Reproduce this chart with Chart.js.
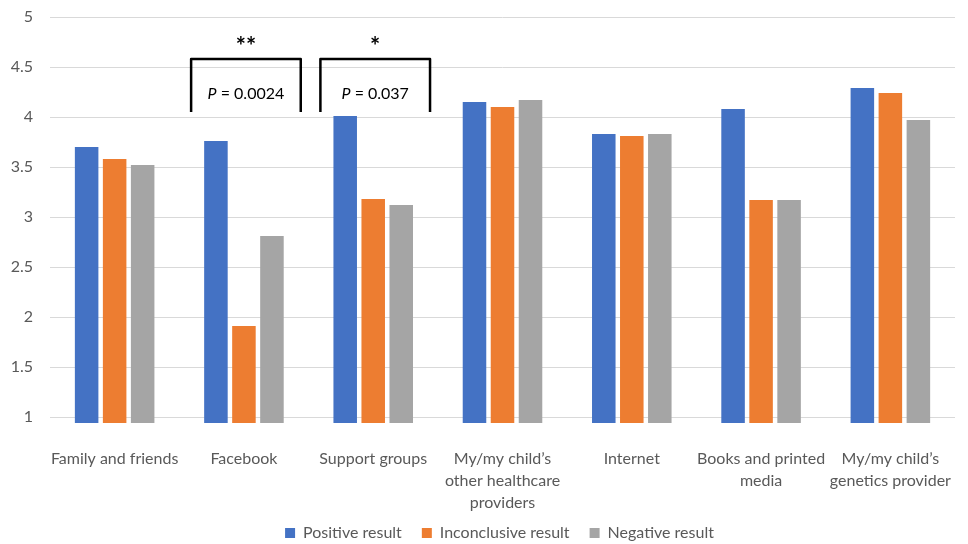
<!DOCTYPE html>
<html>
<head>
<meta charset="utf-8">
<script src="https://cdn.jsdelivr.net/npm/chart.js@4/dist/chart.umd.min.js"></script>
<style>
  html, body { margin: 0; padding: 0; background: #fff; }
  #wrap { width: 968px; height: 544px; }
</style>
</head>
<body>
<div id="wrap"><canvas id="c" width="968" height="544"></canvas></div>
<script>
// Mean ratings of information sources, by genetic test result
const categories = [
  "Family and friends",
  "Facebook",
  "Support groups",
  ["My/my child\u2019s", "other healthcare", "providers"],
  "Internet",
  ["Books and printed", "media"],
  ["My/my child\u2019s", "genetics provider"]
];
const seriesNames = ["Positive result", "Inconclusive result", "Negative result"];
const positive     = [3.70, 3.76, 4.01, 4.15, 3.83, 4.08, 4.29];
const inconclusive = [3.58, 1.91, 3.18, 4.10, 3.81, 3.17, 4.24];
const negative     = [3.52, 2.81, 3.12, 4.17, 3.83, 3.17, 3.97];
const yTicks = [1, 1.5, 2, 2.5, 3, 3.5, 4, 4.5, 5];

// Significance brackets: category index, stars, p-value text
const sigCategory = [1, 2];
const sigStars = ["**", "*"];
const sigP = ["0.0024", "0.037"];

const colors = ["#4472C4", "#ED7D31", "#A5A5A5"];
const FONT = "Lato, 'Open Sans', sans-serif";

const sigPlugin = {
  id: "sig",
  afterDatasetsDraw(chart) {
    const ctx = chart.ctx;
    const x = chart.scales.x, y = chart.scales.y;
    const catW = (chart.chartArea.right - chart.chartArea.left) / categories.length;
    const yTop = y.getPixelForValue(4.58);
    const yBot = y.getPixelForValue(4.05);
    const yText = y.getPixelForValue(4.23);
    const yStar = y.getPixelForValue(4.75);
    ctx.save();
    sigCategory.forEach((ci, i) => {
      const cx = x.getPixelForValue(ci) + 2;
      const half = catW * 0.424;
      ctx.strokeStyle = "#000";
      ctx.lineWidth = 2.5;
      ctx.lineJoin = "round";
      ctx.beginPath();
      ctx.moveTo(cx - half, yBot);
      ctx.lineTo(cx - half, yTop);
      ctx.lineTo(cx + half, yTop);
      ctx.lineTo(cx + half, yBot);
      ctx.stroke();

      ctx.fillStyle = "#000";
      ctx.textBaseline = "middle";
      ctx.textAlign = "left";
      const fI = "italic 16px " + FONT;
      const fN = "16px " + FONT;
      ctx.font = fI;
      const wP = ctx.measureText("P").width;
      const rest = " = " + sigP[i];
      ctx.font = fN;
      const wR = ctx.measureText(rest).width;
      const start = cx - (wP + wR) / 2;
      ctx.font = fI;
      ctx.fillText("P", start, yText);
      ctx.font = fN;
      ctx.fillText(rest, start + wP, yText);

      ctx.font = "bold 24px " + FONT;
      ctx.textAlign = "center";
      ctx.fillText(sigStars[i], cx, yStar + 5);
    });
    ctx.restore();
  }
};

// Keeps the legend band compact under the category labels, nudged a little right
const legendHeightPlugin = {
  id: "legendHeight",
  afterInit(chart) {
    const leg = chart.legend;
    if (!leg) return;
    const origFit = leg.fit;
    leg.fit = function () {
      origFit.call(this);
      this.height = 39;
    };
  },
  afterLayout(chart) {
    const leg = chart.legend;
    if (!leg) return;
    leg.left += 16;
    leg.right += 16;
  }
};

new Chart(document.getElementById("c"), {
  type: "bar",
  data: {
    labels: categories,
    datasets: [
      { label: seriesNames[0], data: positive, backgroundColor: colors[0] },
      { label: seriesNames[1], data: inconclusive, backgroundColor: colors[1] },
      { label: seriesNames[2], data: negative, backgroundColor: colors[2] }
    ]
  },
  options: {
    responsive: false,
    animation: false,
    layout: { padding: { top: 17, right: 1, left: 0, bottom: 0 } },
    datasets: { bar: { categoryPercentage: 0.65, barPercentage: 0.84 } },
    scales: {
      x: {
        grid: { display: false },
        border: { display: false },
        afterFit(scale) {
          scale.height = 82;
          scale._computeLabelArea = () => undefined;
        },
        ticks: {
          color: "#595959",
          font: { family: FONT, size: 16, lineHeight: 1.375 },
          maxRotation: 0,
          autoSkip: false,
          padding: 17
        }
      },
      y: {
        min: 0.94,
        max: 5,
        afterBuildTicks(scale) {
          scale.ticks = yTicks.map(v => ({ value: v }));
        },
        afterFit(scale) {
          scale.width = 50;
          scale.paddingTop = 0;
          scale.paddingBottom = 0;
        },
        grid: { color: "#D9D9D9", lineWidth: 1, drawTicks: false },
        border: { display: false },
        ticks: {
          color: "#595959",
          font: { family: FONT, size: 16 },
          padding: 17,
          callback: v => String(v)
        }
      }
    },
    plugins: {
      legend: {
        position: "bottom",
        labels: {
          boxWidth: 10,
          boxHeight: 10,
          color: "#595959",
          font: { family: FONT, size: 16 },
          padding: 20
        }
      },
      tooltip: { enabled: false }
    }
  },
  plugins: [sigPlugin, legendHeightPlugin]
});
</script>
</body>
</html>
